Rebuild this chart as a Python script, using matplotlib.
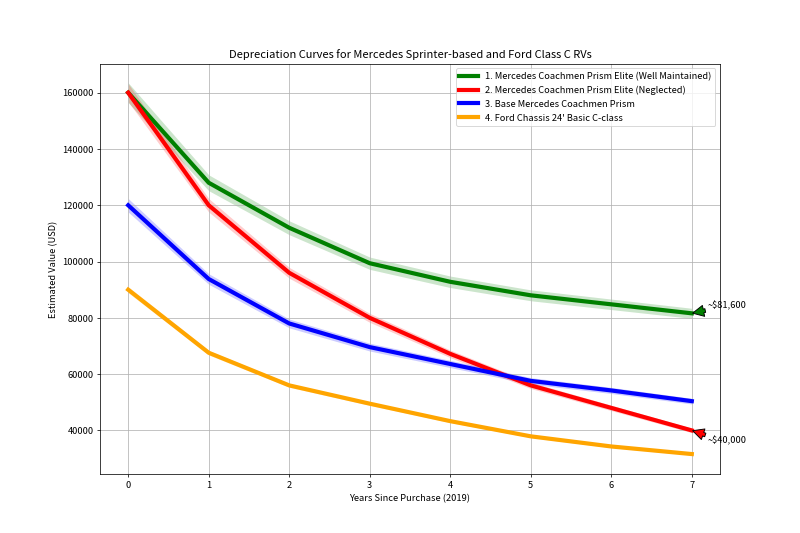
import matplotlib
matplotlib.use("Agg")
import matplotlib.pyplot as plt
import numpy as np

plt.rcParams['font.family'] = ['Noto Sans CJK JP', 'DejaVu Sans']

# Datos
years = [0, 1, 2, 3, 4, 5, 6, 7]
elite_maintained = [160000, 128000, 112000, 99400, 92800, 88000, 84800, 81600]
elite_neglected = [160000, 120000, 96000, 80000, 67200, 56000, 48000, 40000]
base_prism = [120000, 93800, 78000, 69600, 63600, 57600, 54200, 50400]
ford_basic = [90000, 67600, 56000, 49500, 43300, 37900, 34300, 31600]

labels = [
    "1. Mercedes Coachmen Prism Elite (Well Maintained)",
    "2. Mercedes Coachmen Prism Elite (Neglected)",
    "3. Base Mercedes Coachmen Prism",
    "4. Ford Chassis 24' Basic C-class",
]
colores = ["green", "red", "blue", "orange"]
banda = [0.022, 0.02, 0.02, 0.012]  # incertidumbre relativa

series = [elite_maintained, elite_neglected, base_prism, ford_basic]

fig, ax = plt.subplots(figsize=(12, 8), dpi=200 / 3)

for vals, lab, col, b in zip(series, labels, colores, banda):
    v = np.array(vals, dtype=float)
    ax.plot(years, v, color=col, linewidth=4.5, label=lab)
    ax.fill_between(years, v * (1 - b), v * (1 + b), color=col, alpha=0.2, linewidth=0)

# Anotaciones de valor final
ax.annotate("~$81,600", xy=(7, elite_maintained[-1]), xytext=(7.2, 83500),
            arrowprops=dict(facecolor="green", shrink=0.05), fontsize=10)
ax.annotate("~$40,000", xy=(7, elite_neglected[-1]), xytext=(7.2, 35400),
            arrowprops=dict(facecolor="red", shrink=0.05), fontsize=10)

ax.set_xlim(-0.35, 7.35)
ax.set_ylim(24400, 170300)
ax.set_title("Depreciation Curves for Mercedes Sprinter-based and Ford Class C RVs", fontsize=12)
ax.set_xlabel("Years Since Purchase (2019)")
ax.set_ylabel("Estimated Value (USD)")
ax.legend(loc="upper right")
ax.grid(True)

fig.savefig("out.png", dpi=200 / 3)
